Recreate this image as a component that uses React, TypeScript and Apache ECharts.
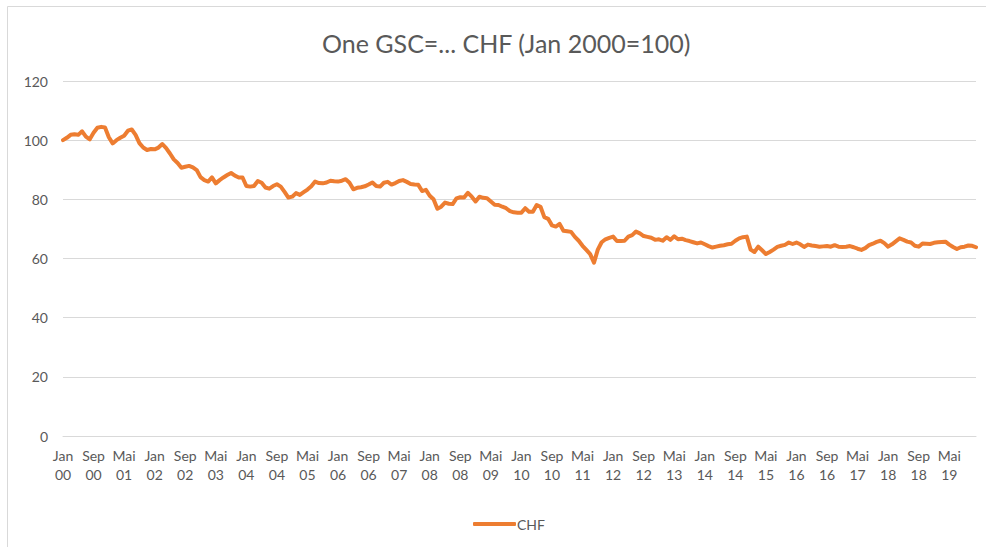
import React, { useEffect, useRef } from "react";
import * as echarts from "echarts";

const monthNames = ["Jan", "Feb", "Mär", "Apr", "Mai", "Jun", "Jul", "Aug", "Sep", "Okt", "Nov", "Dez"];
const years = ["00", "01", "02", "03", "04", "05", "06", "07", "08", "09", "10", "11", "12", "13", "14", "15", "16", "17", "18", "19"];
const categories: string[] = [];
years.forEach((y) => monthNames.forEach((m) => categories.push(m + "\n" + y)));

const chfValues = [
  100, 100.8, 101.8, 102.0, 101.8, 103.0, 101.2, 100.3, 102.5, 104.2, 104.5, 104.3,
  101.0, 98.9, 100.0, 100.8, 101.5, 103.2, 103.6, 101.8, 99.0, 97.5, 96.7, 97.0,
  96.9, 97.5, 98.7, 97.3, 95.5, 93.5, 92.3, 90.7, 91.0, 91.3, 90.8, 89.9,
  87.5, 86.5, 86.0, 87.4, 85.4, 86.5, 87.4, 88.2, 88.9, 88.0, 87.4, 87.4,
  84.5, 84.3, 84.5, 86.2, 85.6, 84.0, 83.6, 84.5, 85.1, 84.3, 82.5, 80.6,
  80.9, 82.1, 81.5, 82.4, 83.3, 84.4, 86.0, 85.5, 85.4, 85.7, 86.3, 86.1,
  86.0, 86.3, 86.8, 85.6, 83.4, 83.9, 84.1, 84.4, 85.0, 85.7, 84.5, 84.3,
  85.6, 85.9, 85.0, 85.5, 86.2, 86.5, 85.9, 85.2, 85.0, 84.9, 82.8, 83.2,
  81.2, 80.0, 76.8, 77.5, 78.9, 78.5, 78.4, 80.3, 80.7, 80.6, 82.2, 80.9,
  79.3, 80.9, 80.5, 80.4, 79.3, 78.2, 78.1, 77.5, 77.0, 76.0, 75.6, 75.5,
  75.5, 77.0, 75.8, 75.8, 78.1, 77.5, 74.0, 73.4, 71.2, 70.8, 71.7, 69.4,
  69.2, 69.0, 67.3, 66.0, 64.3, 62.9, 61.5, 58.6, 63.0, 65.5, 66.5, 67.0,
  67.4, 65.9, 65.9, 66.0, 67.4, 67.9, 69.1, 68.5, 67.6, 67.3, 67.0, 66.3,
  66.5, 66.0, 67.2, 66.3, 67.5, 66.5, 66.7, 66.2, 65.9, 65.5, 65.1, 65.4,
  64.8, 64.2, 63.7, 64.0, 64.3, 64.5, 64.8, 65.0, 66.0, 66.8, 67.2, 67.4,
  63.0, 62.2, 64.0, 62.8, 61.5, 62.2, 63.0, 63.9, 64.3, 64.6, 65.4, 64.9,
  65.4, 64.8, 63.9, 64.7, 64.4, 64.2, 64.0, 64.1, 64.2, 64.0, 64.5, 64.0,
  63.9, 64.0, 64.2, 63.8, 63.3, 62.9, 63.5, 64.5, 65.0, 65.6, 66.0, 65.2,
  64.0, 64.8, 65.8, 66.8, 66.3, 65.7, 65.4, 64.3, 64.0, 65.1, 65.0, 64.9,
  65.3, 65.5, 65.6, 65.7, 64.7, 63.9, 63.2, 63.8, 64.0, 64.4, 64.3, 63.8,
];

const FONT = "Lato, 'Liberation Sans', sans-serif";
const TEXT = "#595959";

export default function App() {
  const ref = useRef<HTMLDivElement>(null);
  useEffect(() => {
    if (!ref.current) return;
    const chart = echarts.init(ref.current, null, { renderer: "svg" });
    chart.setOption({
      animation: false,
      backgroundColor: "#ffffff",
      textStyle: { fontFamily: FONT },
      title: {
        text: "One GSC=... CHF (Jan 2000=100)",
        left: 317,
        top: 25,
        textStyle: { fontFamily: FONT, fontSize: 25, fontWeight: "normal", color: TEXT },
      },
      graphic: [
        {
          type: "rect",
          shape: { x: 7.5, y: 6.5, width: 1000, height: 600 },
          style: { fill: "none", stroke: "#d9d9d9", lineWidth: 1 },
          silent: true,
        },
      ],
      grid: { left: 63, right: 10, top: 81, bottom: 111, containLabel: false },
      legend: {
        data: ["CHF"],
        left: 468,
        top: 512,
        icon: "roundRect",
        itemWidth: 43,
        itemHeight: 4,
        itemGap: 2,
        textStyle: { fontFamily: FONT, fontSize: 14, color: TEXT, padding: [0, 0, 0, -4] },
      },
      xAxis: {
        type: "category",
        data: categories,
        boundaryGap: false,
        axisLine: { show: true, lineStyle: { color: "#d9d9d9", width: 1 } },
        axisTick: { show: false },
        axisLabel: {
          interval: 7,
          color: TEXT,
          fontFamily: FONT,
          fontSize: 14,
          lineHeight: 19,
          margin: 10,
        },
        splitLine: { show: false },
      },
      yAxis: {
        type: "value",
        min: 0,
        max: 120,
        interval: 20,
        axisLine: { show: false },
        axisTick: { show: false },
        axisLabel: { color: TEXT, fontFamily: FONT, fontSize: 14, margin: 15 },
        splitLine: { lineStyle: { color: "#d9d9d9", width: 1 } },
      },
      series: [
        {
          name: "CHF",
          type: "line",
          data: chfValues,
          showSymbol: false,
          symbol: "none",
          itemStyle: { color: "#ed7d31" },
          lineStyle: { color: "#ed7d31", width: 4, cap: "round", join: "round" },
        },
      ],
    });
    return () => chart.dispose();
  }, []);
  return (
    <div
      ref={ref}
      style={{ position: "absolute", left: 0, top: 0, width: 986, height: 547, background: "#fff" }}
    />
  );
}
